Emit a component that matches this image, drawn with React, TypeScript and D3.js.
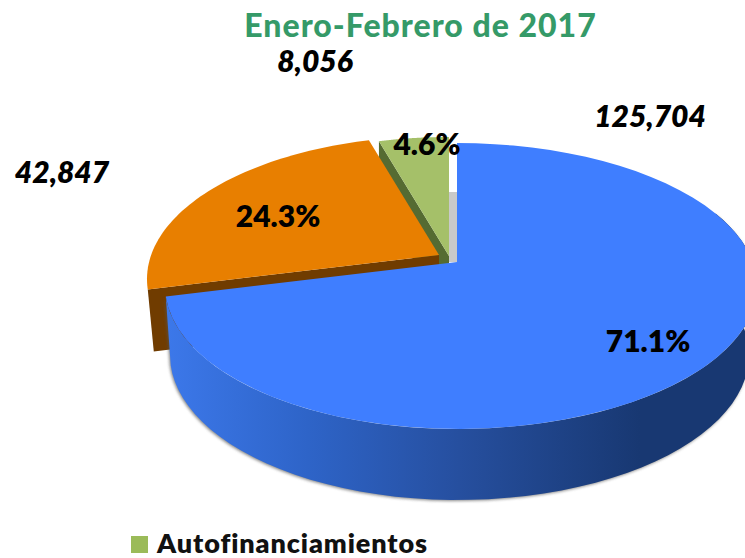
import React from "react";
import * as d3 from "d3";

const categories = ["Blue", "Orange", "Autofinanciamientos"];
const values = [125704, 42847, 8056];
const percentLabels = ["71.1%", "24.3%", "4.6%"];
const valueLabels = ["125,704", "42,847", "8,056"];
const legendEntries = ["Autofinanciamientos"];
const titleText = "Enero-Febrero de 2017";

const W = 745, H = 558;
const topEllipse = { cx: 457, cy: 286, rxL: 292, rxR: 300, ry: 143 };
const botEllipse = { cx: 457, cy: 355, rxL: 287, rxR: 292, ry: 145 };
const B = 0.168; // perspective shift of the pie apex from the ellipse centre

type E = typeof topEllipse;
// Map a pie angle (clockwise from 12 o'clock) to the perspective-foreshortened rim
function rim(e: E, a: number, dx = 0, dy = 0): [number, number] {
  const x = Math.sin(a), y = Math.cos(a);
  const d = 1 + B * y;
  const yy = (y + B) / d;
  const xx = (x * Math.sqrt(1 - B * B)) / d;
  return [e.cx + xx * (xx < 0 ? e.rxL : e.rxR) + dx, e.cy - yy * e.ry + dy];
}
const apexY = (e: E) => e.cy - B * e.ry;
const line = d3.line();
function arcPts(e: E, a0: number, a1: number, dx = 0, dy = 0) {
  return d3.range(0, 61).map((i) => rim(e, a0 + ((a1 - a0) * i) / 60, dx, dy));
}
function slice(a0: number, a1: number, dx = 0, dy = 0) {
  const ap: [number, number] = [topEllipse.cx + dx, apexY(topEllipse) + dy];
  return line([ap, ...arcPts(topEllipse, a0, a1, dx, dy)])! + "Z";
}

export default function App() {
  const arcs = d3.pie<number>().sort(null)(values);
  const [blue, orange, green] = arcs;
  const orangeOff: [number, number] = [-18, -7];
  const greenOff: [number, number] = [-8, -6];
  const depth = 62;

  const wallStart = Math.PI / 2 + 0.02;
  const wallTop = arcPts(topEllipse, wallStart - 0.4, blue.endAngle);
  const wallBot = arcPts(botEllipse, wallStart - 0.4, blue.endAngle).reverse();
  const wall = line([...wallTop, ...wallBot])! + "Z";

  const oL = rim(topEllipse, orange.startAngle, ...orangeOff);
  const oA: [number, number] = [topEllipse.cx + orangeOff[0], apexY(topEllipse) + orangeOff[1]];
  const orangeWall =
    line([oL, oA, [oA[0], oA[1] + depth], [oL[0] + 6, oL[1] + depth]])! + "Z";

  const gL = rim(topEllipse, green.startAngle, ...greenOff);
  const gA: [number, number] = [topEllipse.cx + greenOff[0], apexY(topEllipse) + greenOff[1]];
  const greenWall =
    line([gL, gA, [gA[0], gA[1] + depth], [gL[0], gL[1] + depth]])! + "Z";

  const labelFont = "Lato, sans-serif";
  return (
    <svg
      width={W}
      height={H}
      viewBox={`0 0 ${W} ${H}`}
      style={{ position: "absolute", left: 0, top: 0, display: "block", background: "#fff" }}
    >
      <defs>
        <linearGradient id="wallGrad" gradientUnits="userSpaceOnUse" x1={165} x2={640} y1={0} y2={0}>
          <stop offset="0" stopColor="#3c78ea" />
          <stop offset="0.3" stopColor="#2e64c8" />
          <stop offset="0.62" stopColor="#264f9f" />
          <stop offset="1" stopColor="#183872" />
        </linearGradient>
        <filter id="soft" x="-5%" y="-5%" width="110%" height="110%">
          <feGaussianBlur stdDeviation="1.6" />
        </filter>
      </defs>

      <text x={420.5} y={37} textAnchor="middle" fontFamily={labelFont} fontWeight={900} fontSize={32} letterSpacing={1} fill="#359a68">
        {titleText}
      </text>

      <rect x={449} y={192} width={8} height={70} fill="#c9c9c9" />

      <path d={greenWall} fill="#556b32" />
      <path d={slice(green.startAngle, green.endAngle, ...greenOff)} fill="#a5c069" />

      <path d={orangeWall} fill="#703c00" />
      <path d={slice(orange.startAngle, orange.endAngle, ...orangeOff)} fill="#e87f00" />

      <path d={wall} fill="#555" filter="url(#soft)" transform="translate(-1,1)" opacity={0.7} />
      <path d={wall} fill="url(#wallGrad)" />
      <path d={slice(blue.startAngle, blue.endAngle)} fill="#3f7eff" />

      <g fontFamily={labelFont} fontWeight={800} fontSize={30} fill="#000">
        <text x={648} y={352} textAnchor="middle">{percentLabels[0]}</text>
        <text x={278} y={227} textAnchor="middle">{percentLabels[1]}</text>
        <text x={427} y={155} textAnchor="middle">{percentLabels[2]}</text>
      </g>
      <g fontFamily={labelFont} fontWeight={800} fontStyle="italic" fontSize={30} fill="#000">
        <text x={650} y={127} textAnchor="middle">{valueLabels[0]}</text>
        <text x={62} y={183} textAnchor="middle">{valueLabels[1]}</text>
        <text x={315} y={72} textAnchor="middle">{valueLabels[2]}</text>
      </g>

      <rect x={131} y={536} width={17} height={17} fill="#9bbb59" />
      <text x={157} y={552.5} fontFamily={labelFont} fontWeight={800} fontSize={27} letterSpacing={0.9} fill="#111">
        {legendEntries[0]}
      </text>
    </svg>
  );
}
